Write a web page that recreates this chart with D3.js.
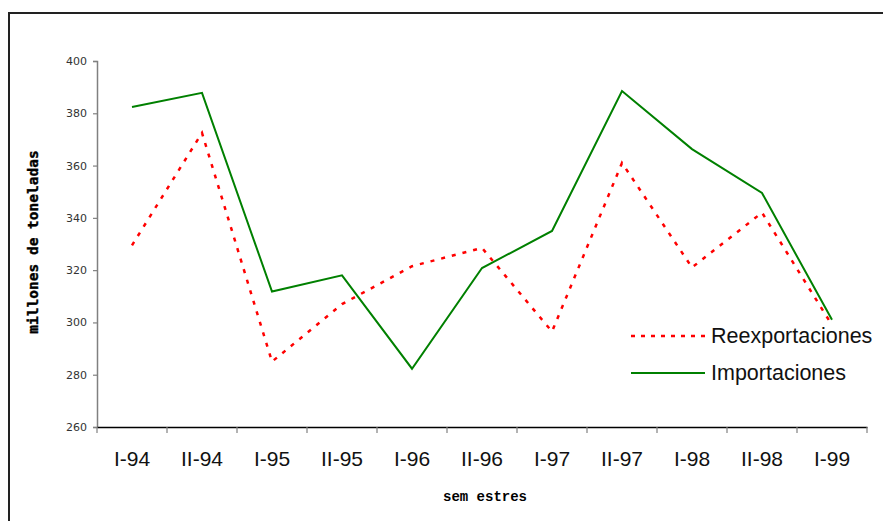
<!DOCTYPE html>
<html>
<head>
<meta charset="utf-8">
<script src="https://cdn.jsdelivr.net/npm/d3@7/dist/d3.min.js"></script>
<style>
  html, body { margin: 0; padding: 0; background: #fff; }
  svg { display: block; }
</style>
</head>
<body>
<svg id="chart" width="883" height="521"></svg>
<script>
// Semesters on the category axis
const categories = ["I-94", "II-94", "I-95", "II-95", "I-96", "II-96", "I-97", "II-97", "I-98", "II-98", "I-99"];
// Millions of tonnes per semester
const reexportaciones = [329.5, 372.5, 285, 307, 321.5, 328.5, 296.5, 361, 321, 342, 299];
const importaciones = [382.4, 387.8, 311.8, 318, 282.3, 320.8, 335, 388.5, 366.3, 349.5, 301];
const yTicks = [260, 280, 300, 320, 340, 360, 380, 400];
const seriesNames = ["Reexportaciones", "Importaciones"];

const svg = d3.select("#chart");

// Outer chart frame (only top and left edges fall inside the page)
svg.append("rect")
  .attr("x", 9).attr("y", 13)
  .attr("width", 900).attr("height", 600)
  .attr("fill", "#fff")
  .attr("stroke", "#222")
  .attr("stroke-width", 2);

const x = d3.scaleBand().domain(categories).range([97, 867]);
const y = d3.scaleLinear().domain([260, 400]).range([427, 61]);

// Y axis
const yAxis = svg.append("g")
  .attr("transform", "translate(97,0)")
  .call(d3.axisLeft(y).tickValues(yTicks).tickSize(4).tickPadding(6).tickFormat(d3.format("d")));
yAxis.select(".domain").attr("stroke", "#808080").attr("stroke-width", 1.5);
yAxis.selectAll(".tick line").attr("stroke", "#808080").attr("stroke-width", 1.2);
yAxis.selectAll(".tick text")
  .attr("font-family", "DejaVu Sans, Verdana, sans-serif")
  .attr("font-size", 11)
  .attr("fill", "#333");

// X axis
const xAxis = svg.append("g")
  .attr("transform", "translate(0,427)")
  .call(d3.axisBottom(x).tickSize(0).tickPadding(0));
xAxis.select(".domain").attr("stroke", "#000").attr("stroke-width", 1.5);
xAxis.selectAll(".tick text")
  .attr("y", 39)
  .attr("dy", null)
  .attr("font-family", "Liberation Sans, Arial, sans-serif")
  .attr("font-size", 21)
  .attr("fill", "#111");

// Tick marks on band boundaries
const boundaries = categories.map(c => x(c)).concat([x.range()[1]]);
svg.append("g").selectAll("line")
  .data(boundaries)
  .join("line")
  .attr("x1", d => d).attr("x2", d => d)
  .attr("y1", 427).attr("y2", 433)
  .attr("stroke", "#808080")
  .attr("stroke-width", 1.2);

// Axis titles
svg.append("text")
  .attr("transform", "translate(38,242) rotate(-90)")
  .attr("text-anchor", "middle")
  .attr("font-family", "DejaVu Sans Mono, monospace")
  .attr("font-weight", "bold")
  .attr("font-size", 14.5)
  .attr("fill", "#000")
  .attr("stroke", "#000")
  .attr("stroke-width", 0.4)
  .text("millones de toneladas");

svg.append("text")
  .attr("x", 485).attr("y", 501)
  .attr("text-anchor", "middle")
  .attr("font-family", "Liberation Mono, Courier New, monospace")
  .attr("font-weight", "bold")
  .attr("font-size", 14)
  .attr("fill", "#000")
  .text("sem estres");

// Series lines
const cx = c => x(c) + x.bandwidth() / 2;
const line = d3.line().x(d => cx(d.c)).y(d => y(d.v));

const impData = categories.map((c, i) => ({ c, v: importaciones[i] }));
const reData = categories.map((c, i) => ({ c, v: reexportaciones[i] }));

svg.append("path")
  .datum(impData)
  .attr("d", line)
  .attr("fill", "none")
  .attr("stroke", "#008000")
  .attr("stroke-width", 2);

svg.append("path")
  .datum(reData)
  .attr("d", line)
  .attr("fill", "none")
  .attr("stroke", "#ff0000")
  .attr("stroke-width", 2.5)
  .attr("stroke-dasharray", "4,7");

// Legend
const legend = svg.append("g");
const styles = [
  { stroke: "#ff0000", width: 2.5, dash: "4,6" },
  { stroke: "#008000", width: 2, dash: null }
];
seriesNames.forEach((name, i) => {
  const ly = 336 + i * 37;
  legend.append("line")
    .attr("x1", 631).attr("x2", 705)
    .attr("y1", ly).attr("y2", ly)
    .attr("stroke", styles[i].stroke)
    .attr("stroke-width", styles[i].width)
    .attr("stroke-dasharray", styles[i].dash);
  legend.append("text")
    .attr("x", 711).attr("y", ly + 7)
    .attr("font-family", "Liberation Sans, Arial, sans-serif")
    .attr("font-size", 21.5)
    .attr("fill", "#111")
    .text(name);
});
</script>
</body>
</html>
